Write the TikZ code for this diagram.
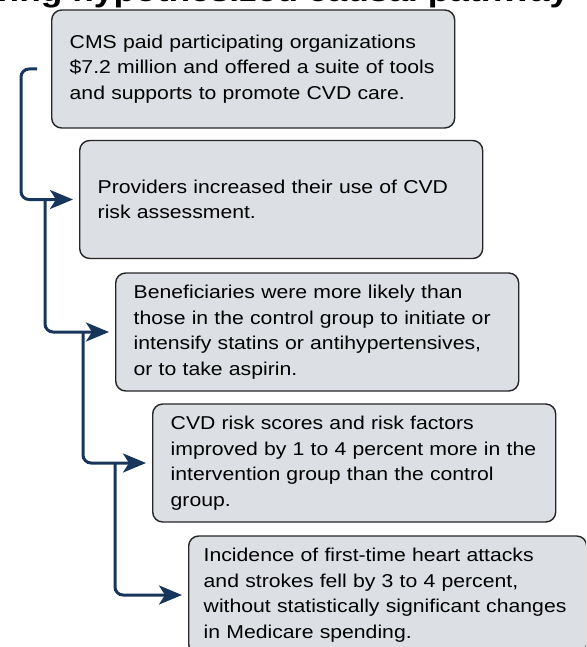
\documentclass[tikz,border=0pt]{standalone}
\usepackage{fontspec}
\setmainfont{Liberation Sans}[FakeStretch=1.14]
\usetikzlibrary{arrows.meta}
\definecolor{pathnavy}{RGB}{24,54,92}
\definecolor{boxgray}{RGB}{220,223,227}

\begin{document}
\begin{tikzpicture}[x=1pt,y=-1pt]
      \tikzstyle{stage}=[draw=black!85,line width=1.4pt,fill=boxgray,rounded corners=10pt,
        anchor=west,align=left,minimum height=118pt,text width=367pt,inner xsep=18pt,
        font=\fontsize{18.6}{25.5}\selectfont]
      \tikzstyle{link}=[pathnavy,line width=3pt,rounded corners=8pt,
        -{Stealth[length=23pt,width=19pt,inset=6pt]},shorten >=6pt]
      \useasboundingbox (0,0) rectangle (586,647);
      \clip (0,0) rectangle (586,647);
      \node[anchor=base west,inner sep=0pt,font=\bfseries\fontsize{31}{36}\selectfont] (title) at (-81,2)
        {showing hypothesized causal pathway};
      \node[stage] (cms) at (51,69) {CMS paid participating organizations\\
        \$7.2 million and offered a suite of tools\\ and supports to promote CVD care.};
      \node[stage] (use) at (79,199.5) {Providers increased their use of CVD\\ risk assessment.};
      \node[stage] (rx) at (115,332) {Beneficiaries were more likely than\\
        those in the control group to initiate or\\ intensify statins or antihypertensives,\\
        or to take aspirin.};
      \node[stage] (risk) at (152,463) {CVD risk scores and risk factors\\
        improved by 1 to 4 percent more in the\\ intervention group than the control\\ group.};
      \node[stage,text width=368pt,inner xsep=15pt] (events) at (188,595) {Incidence of first-time heart attacks\\
        and strokes fell by 3 to 4 percent,\\ without statistically significant changes\\
        in Medicare spending.};
      % rails of the bracket
      \coordinate (start) at (37,69);
      \coordinate (r1) at (21,0);
      \coordinate (r2) at (45,0);
      \coordinate (r3) at (83,0);
      \coordinate (r4) at (115,0);
      \draw[link] (start) -- (start -| r1) -- (r1 |- use.west) -- (use.west);
      \foreach \r/\a/\b in {r2/use/rx,r3/rx/risk,r4/risk/events}
        {\draw[link] (\r |- \a.west) -- (\r |- \b.west) -- (\b.west);}
\end{tikzpicture}
\end{document}
